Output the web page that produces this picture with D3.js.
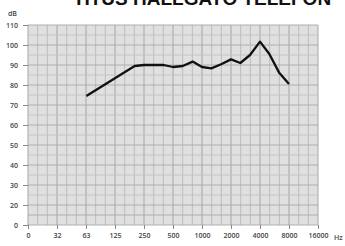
<!DOCTYPE html>
<html>
<head>
<meta charset="utf-8">
<script src="https://cdn.jsdelivr.net/npm/d3@7"></script>
<style>
  body { margin: 0; background: #fff; }
  svg { display: block; }
  .lbl { font-family: "Open Sans", sans-serif; font-size: 7px; font-weight: 600; fill: #444; }
</style>
</head>
<body>
<svg id="chart"></svg>
<script>
// curve values (Hz, dB)
const freqs = [63, 200, 250, 400, 500, 630, 800, 1000, 1250, 1600, 2000, 2500, 3150, 4000, 5000, 6300, 8000];
const levels = [74.5, 89.5, 90, 90, 89, 89.5, 91.7, 89, 88.3, 90.5, 92.8, 91, 95, 101.7, 95.5, 86.3, 80.5];

// axis ticks
const xTickFreqs = [15.625, 31.25, 62.5, 125, 250, 500, 1000, 2000, 4000, 8000, 16000];
const xTickLabels = ['0', '32', '63', '125', '250', '500', '1000', '2000', '4000', '8000', '16000'];
const yTicks = [0, 20, 30, 40, 50, 60, 70, 80, 90, 100, 110];

const svgWidth = 345, svgHeight = 246;
const svg = d3.select('#chart').attr('width', svgWidth).attr('height', svgHeight);

const x = d3.scaleLog().base(2).domain([15.625, 16000]).range([28, 318]);
// the axis skips 10: label "0" sits one step under 20
const y = d3.scaleLinear().domain([0, 20, 110]).range([225, 205, 25]);

// plot background
svg.append('rect')
    .attr('x', x(15.625)).attr('y', y(110))
    .attr('width', x(16000) - x(15.625)).attr('height', y(0) - y(110))
    .attr('fill', '#e0e0e0');

// grid: third-octave verticals, 5 dB horizontals
const vGrid = d3.range(0, 31).map(k => 15.625 * Math.pow(2, k / 3));
const hGrid = [0, 10].concat(d3.range(20, 111, 5));
const grid = svg.append('g');
grid.selectAll('.v').data(vGrid).enter().append('line')
    .attr('x1', d => x(d)).attr('x2', d => x(d))
    .attr('y1', y(110)).attr('y2', y(0))
    .attr('stroke', (d, i) => i % 3 === 0 ? '#9e9e9e' : '#bababa')
    .attr('stroke-width', 0.9);
grid.selectAll('.h').data(hGrid).enter().append('line')
    .attr('x1', x(15.625)).attr('x2', x(16000))
    .attr('y1', d => y(d)).attr('y2', d => y(d))
    .attr('stroke', d => d % 10 === 0 ? '#a8a8a8' : '#c2c2c2')
    .attr('stroke-width', 0.9);

// axes
const xAxis = d3.axisBottom(x).tickValues(xTickFreqs)
    .tickFormat((d, i) => xTickLabels[i]).tickSize(4).tickPadding(4);
const gX = svg.append('g').attr('transform', 'translate(0,' + y(0) + ')').call(xAxis);
gX.select('.domain').remove();
gX.selectAll('.tick line').attr('stroke', '#888');
gX.selectAll('.tick text').attr('class', 'lbl');

const yAxis = d3.axisLeft(y).tickValues(yTicks).tickSize(5).tickPadding(5);
const gY = svg.append('g').attr('transform', 'translate(' + x(15.625) + ',0)').call(yAxis);
gY.select('.domain').remove();
gY.selectAll('.tick line').attr('stroke', '#888');
gY.selectAll('.tick text').attr('class', 'lbl');

svg.append('text').attr('class', 'lbl')
    .attr('x', 334).attr('y', y(0) + 15)
    .text('Hz');
svg.append('text').attr('class', 'lbl')
    .attr('x', 17).attr('y', 16).attr('text-anchor', 'end')
    .text('dB');

// title (partly cut off at the top)
svg.append('text')
    .attr('x', 202).attr('y', 5)
    .attr('text-anchor', 'middle')
    .attr('font-family', '"Liberation Sans", Arial, sans-serif')
    .attr('font-weight', 'bold')
    .attr('font-size', 19)
    .attr('fill', '#111')
    .text('TITUS HALLGATÓ TELEFON');

// response curve
const line = d3.line().x(d => x(d)).y((d, i) => y(levels[i]));
svg.append('path')
    .datum(freqs)
    .attr('d', line)
    .attr('fill', 'none')
    .attr('stroke', '#111')
    .attr('stroke-width', 2.3)
    .attr('stroke-linejoin', 'round');
</script>
</body>
</html>
